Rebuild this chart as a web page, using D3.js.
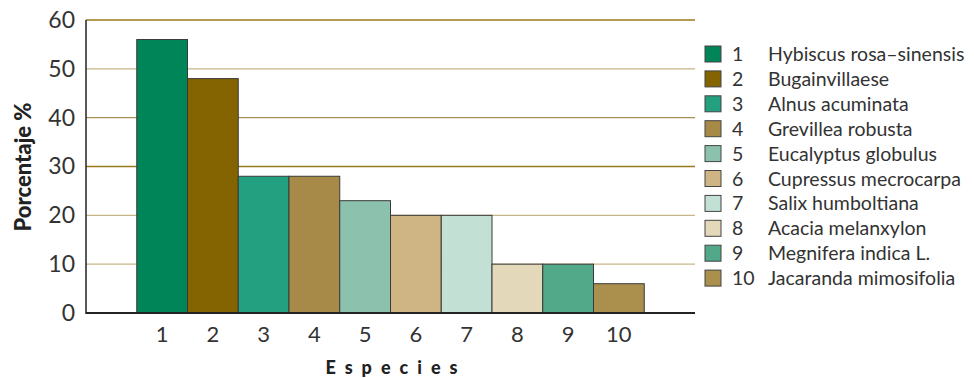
<!DOCTYPE html>
<html><head><meta charset="utf-8">
<script src="https://cdn.jsdelivr.net/npm/d3@7"></script>
<style>body{margin:0;background:#fff}svg{display:block}</style>
</head><body>
<svg id="c" width="974" height="378"></svg>
<script>
const categories = ["1","2","3","4","5","6","7","8","9","10"];
const species = ["Hybiscus rosa–sinensis","Bugainvillaese","Alnus acuminata","Grevillea robusta","Eucalyptus globulus","Cupressus mecrocarpa","Salix humboltiana","Acacia melanxylon","Megnifera indica L.","Jacaranda mimosifolia"];
const values = [56,48,28,28,23,20,20,10,10,6];
const colors = ["#008558","#846400","#23a080","#a88a48","#8cc2ad","#d0b584","#c3e0d5","#e4d8bb","#52a98a","#ab8f4c"];
const yTicks = [0,10,20,30,40,50,60];

const svg = d3.select("#c");
const font = "Lato, 'Open Sans', sans-serif";
const pLeft = 86, pRight = 695, pTop = 20, pBottom = 313;

const x = d3.scaleBand().domain(["", ...categories, " "]).range([pLeft, pRight]).padding(0);
const y = d3.scaleLinear().domain([0,60]).range([pBottom, pTop]);

const gridColor = v => (v===60||v===30) ? "#9a7a1e" : (v===40 ? "#a89055" : "#c6b585");
svg.append("g").selectAll("line").data(yTicks.filter(v=>v>0)).join("line")
  .attr("x1", pLeft).attr("x2", pRight)
  .attr("y1", d=>y(d)).attr("y2", d=>y(d))
  .attr("stroke", gridColor).attr("stroke-width", 1.3);

svg.append("g").selectAll("rect").data(values).join("rect")
  .attr("x", (d,i)=>x(categories[i]))
  .attr("y", d=>y(d))
  .attr("width", x.bandwidth())
  .attr("height", d=>y(0)-y(d))
  .attr("fill", (d,i)=>colors[i])
  .attr("stroke", "#3a3a3a").attr("stroke-width", 1);

// axes lines
svg.append("line").attr("x1", pLeft).attr("x2", pLeft).attr("y1", pTop).attr("y2", pBottom+1)
  .attr("stroke", "#222").attr("stroke-width", 1.5);
svg.append("line").attr("x1", pLeft).attr("x2", pRight).attr("y1", pBottom).attr("y2", pBottom)
  .attr("stroke", "#222").attr("stroke-width", 2);

// y tick labels
const yAxis = svg.append("g").attr("transform", `translate(${pLeft},0)`)
  .call(d3.axisLeft(y).tickValues(yTicks).tickSize(0).tickPadding(11));
yAxis.select(".domain").remove();
yAxis.selectAll("text").attr("font-family", font).attr("font-size", 23).attr("fill", "#333");

// x tick labels
const xAxis = svg.append("g").attr("transform", `translate(0,${pBottom})`)
  .call(d3.axisBottom(x).tickValues(categories).tickSize(0).tickPadding(13));
xAxis.select(".domain").remove();
xAxis.selectAll("text").attr("font-family", font).attr("font-size", 22).attr("fill", "#333");

// axis titles
svg.append("text").attr("transform", "translate(31,167) rotate(-90)")
  .attr("text-anchor", "middle").attr("font-family", font).attr("font-weight", "900")
  .attr("font-size", 22).attr("fill", "#222").text("Porcentaje %");
svg.append("text").attr("x", 396).attr("y", 374)
  .attr("text-anchor", "middle").attr("font-family", font).attr("font-weight", "900")
  .attr("font-size", 18).attr("letter-spacing", 9).attr("fill", "#222").text("Especies");

// legend
const lg = svg.append("g");
const rows = lg.selectAll("g").data(categories).join("g")
  .attr("transform", (d,i)=>`translate(705,${54 + i*24.9})`);
rows.append("rect").attr("x", 0).attr("y", -8).attr("width", 16).attr("height", 16)
  .attr("fill", (d,i)=>colors[i]).attr("stroke", "#444").attr("stroke-width", 1);
rows.append("text").attr("x", 27).attr("y", 7).attr("font-family", font).attr("font-size", 19.5)
  .attr("fill", "#333").text(d=>d);
rows.append("text").attr("x", 63).attr("y", 7).attr("font-family", font).attr("font-size", 19.5)
  .attr("fill", "#333").text((d,i)=>species[i]);
</script>
</body></html>
